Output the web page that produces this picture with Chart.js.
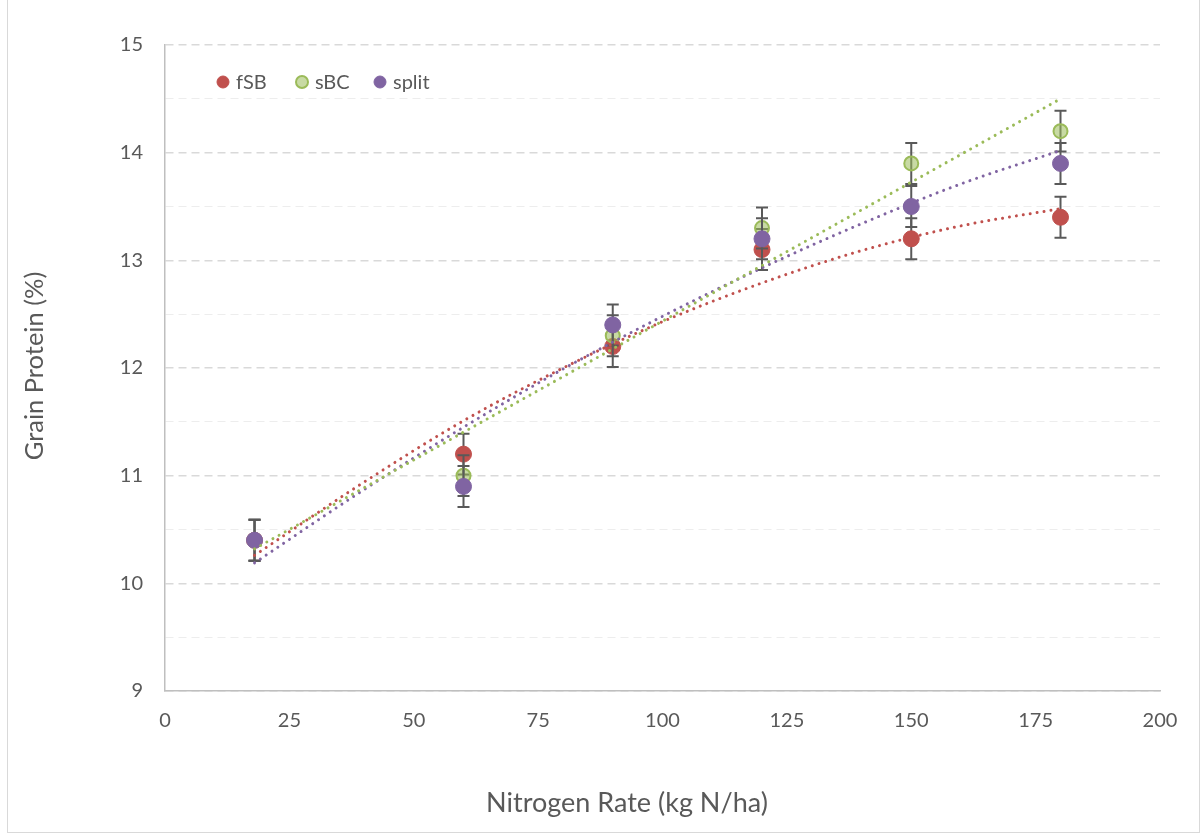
<!DOCTYPE html>
<html>
<head>
<meta charset="utf-8">
<script src="https://cdn.jsdelivr.net/npm/chart.js@4.4.1/dist/chart.umd.min.js"></script>
<style>
  html, body { margin: 0; padding: 0; background: #fff; }
  #wrap { position: relative; width: 1202px; height: 835px; overflow: hidden; }
  #frame { position: absolute; left: 7px; top: -3px; width: 1193px; height: 836px; border: 1.5px solid #d9d9d9; box-sizing: border-box; }
  #proteinChart { position: absolute; left: 0; top: 0; }
</style>
</head>
<body>
<div id="wrap">
  <div id="frame"></div>
  <canvas id="proteinChart" width="1202" height="835"></canvas>
</div>
<script>
// measured points
const nitrogenRates = [18, 60, 90, 120, 150, 180];
const fsbProtein = [10.4, 11.2, 12.2, 13.1, 13.2, 13.4];
const sbcProtein = [10.4, 11.0, 12.3, 13.3, 13.9, 14.2];
const splitProtein = [10.4, 10.9, 12.4, 13.2, 13.5, 13.9];

// error bars (+/-)
const fsbError = [0.19, 0.19, 0.19, 0.19, 0.19, 0.19];
const sbcError = [0.19, 0.19, 0.19, 0.19, 0.19, 0.19];
const splitError = [0.19, 0.19, 0.19, 0.19, 0.19, 0.19];

// trendlines
const fsbTrendX = [18, 40, 60, 80, 100, 120, 140, 160, 180];
const fsbTrendY = [10.26, 10.94, 11.51, 12.00, 12.43, 12.79, 13.09, 13.32, 13.48];
const sbcTrendX = [18, 180];
const sbcTrendY = [10.32, 14.50];
const splitTrendX = [18, 40, 60, 80, 100, 120, 140, 160, 180];
const splitTrendY = [10.19, 10.87, 11.45, 11.99, 12.48, 12.93, 13.34, 13.71, 14.02];

const seriesNames = ['fSB', 'sBC', 'split'];
const xTickValues = [0, 25, 50, 75, 100, 125, 150, 175, 200];
const xTitle = 'Nitrogen Rate (kg N/ha)';
const yTitle = 'Grain Protein (%)';

const FONT = 'Lato, "Open Sans", sans-serif';
const TEXT_COLOR = '#595959';

function toPoints(xs, ys) {
	return xs.map((x, i) => ({ x: x, y: ys[i] }));
}

const errorBarPlugin = {
	id: 'errorBars',
	beforeDatasetDraw(chart, args) {
		const ds = chart.data.datasets[args.index];
		if (!ds.errors) return;
		const ctx = chart.ctx;
		const yScale = chart.scales.y;
		ctx.save();
		ctx.strokeStyle = '#595959';
		ctx.lineWidth = 2;
		args.meta.data.forEach((pt, i) => {
			const v = ds.data[i].y;
			const e = ds.errors[i];
			const top = yScale.getPixelForValue(v + e);
			const bot = yScale.getPixelForValue(v - e);
			ctx.beginPath();
			ctx.moveTo(pt.x, top); ctx.lineTo(pt.x, bot);
			ctx.moveTo(pt.x - 6, top); ctx.lineTo(pt.x + 6, top);
			ctx.moveTo(pt.x - 6, bot); ctx.lineTo(pt.x + 6, bot);
			ctx.stroke();
		});
		ctx.restore();
	}
};

// legend inside the plot + axis titles (Excel places the x title left of centre)
const labelsPlugin = {
	id: 'labels',
	afterDraw(chart) {
		const ctx = chart.ctx;
		const area = chart.chartArea;
		const offsets = [58, 137, 215];
		const y = area.top + 37;
		ctx.save();
		ctx.font = '20px ' + FONT;
		ctx.textBaseline = 'middle';
		seriesNames.forEach((name, i) => {
			const ds = chart.data.datasets[i];
			const cx = area.left + offsets[i];
			ctx.beginPath();
			ctx.arc(cx, y, 6, 0, Math.PI * 2);
			ctx.fillStyle = ds.backgroundColor;
			ctx.fill();
			ctx.lineWidth = ds.borderWidth;
			ctx.strokeStyle = ds.borderColor;
			ctx.stroke();
			ctx.fillStyle = TEXT_COLOR;
			ctx.fillText(name, cx + 13, y + 1);
		});

		ctx.textAlign = 'center';
		ctx.fillStyle = TEXT_COLOR;
		ctx.font = '27px ' + FONT;
		ctx.fillText(xTitle, 627, 803);
		ctx.translate(35, 366);
		ctx.rotate(-Math.PI / 2);
		ctx.font = '25.5px ' + FONT;
		ctx.fillText(yTitle, 0, 0);
		ctx.restore();
	}
};

function trendLine(label, xs, ys, color) {
	return {
		type: 'line',
		label: label,
		data: toPoints(xs, ys),
		borderColor: color,
		borderWidth: 3,
		borderDash: [0.01, 7],
		borderCapStyle: 'round',
		pointRadius: 0,
		fill: false,
		cubicInterpolationMode: 'monotone',
		order: 0
	};
}

const ctx = document.getElementById('proteinChart').getContext('2d');
new Chart(ctx, {
	type: 'scatter',
	data: {
		datasets: [
			{
				label: seriesNames[0],
				data: toPoints(nitrogenRates, fsbProtein),
				errors: fsbError,
				backgroundColor: '#c0504d',
				borderColor: '#c0504d',
				borderWidth: 1,
				pointRadius: 8,
				order: 3
			},
			{
				label: seriesNames[1],
				data: toPoints(nitrogenRates, sbcProtein),
				errors: sbcError,
				backgroundColor: 'rgba(155, 187, 89, 0.55)',
				borderColor: '#9bbb59',
				borderWidth: 2,
				pointRadius: 7,
				order: 2
			},
			{
				label: seriesNames[2],
				data: toPoints(nitrogenRates, splitProtein),
				errors: splitError,
				backgroundColor: '#8064a2',
				borderColor: '#8064a2',
				borderWidth: 1,
				pointRadius: 8,
				order: 1
			},
			trendLine('fSB trend', fsbTrendX, fsbTrendY, '#c0504d'),
			trendLine('sBC trend', sbcTrendX, sbcTrendY, '#9bbb59'),
			trendLine('split trend', splitTrendX, splitTrendY, '#8064a2')
		]
	},
	options: {
		responsive: false,
		animation: false,
		layout: { padding: { left: 0, top: 45, right: 42, bottom: 0 } },
		plugins: {
			legend: { display: false },
			tooltip: { enabled: false }
		},
		scales: {
			x: {
				type: 'linear',
				min: 0,
				max: 200,
				afterBuildTicks: s => { s.ticks = xTickValues.map(v => ({ value: v })); },
				afterFit: s => { s.height = 144; },
				grid: { display: false, drawTicks: false },
				border: { display: true, color: '#bfbfbf', width: 1.5 },
				ticks: { color: TEXT_COLOR, font: { family: FONT, size: 20 }, padding: 18 }
			},
			y: {
				min: 9,
				max: 15,
				afterFit: s => { s.width = 165; },
				ticks: {
					stepSize: 0.5,
					color: TEXT_COLOR,
					font: { family: FONT, size: 20 },
					padding: 22,
					callback: v => (v % 1 === 0 ? v : '')
				},
				grid: {
					drawTicks: false,
					color: c => (c.tick && c.tick.value % 1 === 0 ? '#d9d9d9' : '#ededed'),
					lineWidth: c => (c.tick && c.tick.value % 1 === 0 ? 1.5 : 1)
				},
				border: { display: true, color: '#bfbfbf', width: 1.5, dash: [8, 5] }
			}
		}
	},
	plugins: [errorBarPlugin, labelsPlugin]
});
</script>
</body>
</html>
